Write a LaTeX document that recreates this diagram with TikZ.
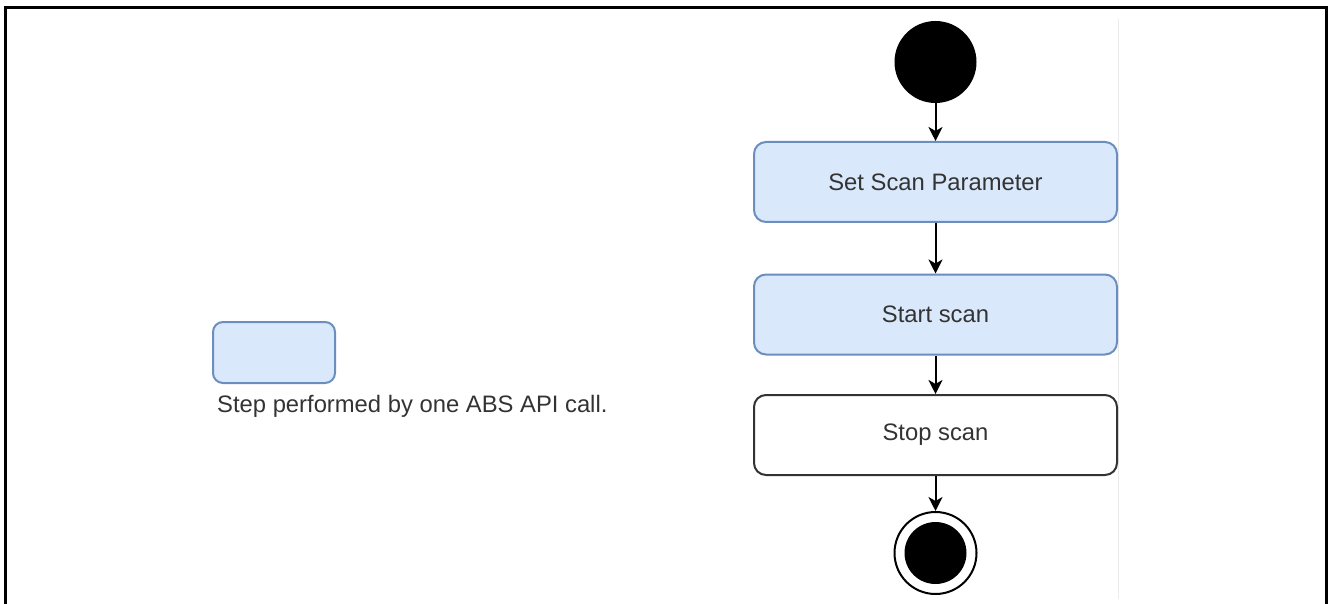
\documentclass[tikz,border=0pt]{standalone}
\usepackage{fontspec}
\setmainfont{Liberation Sans}
\usetikzlibrary{arrows.meta}
\definecolor{stepfill}{HTML}{DAE8FC}
\definecolor{stepline}{HTML}{6C8EBF}
\definecolor{txt}{HTML}{333333}
\definecolor{faint}{HTML}{EBEBEB}
\begin{document}
\begin{tikzpicture}[x=1pt,y=-1pt,
  apicall/.style={draw=stepline,fill=stepfill,line width=2pt,rounded corners=12pt,
    minimum width=363pt,minimum height=80pt,inner sep=0pt,
    font=\fontsize{23.8}{28}\selectfont,text=txt},
  plainstep/.style={apicall,draw=black!80,fill=white},
  flow/.style={draw=black,line width=2pt,-{Stealth[length=14pt,width=14pt,inset=4pt]}},
  startdot/.style={circle,fill=black,minimum size=82pt,inner sep=0pt},
  enddot/.style={circle,draw=black,line width=2pt,fill=white,minimum size=82pt,inner sep=0pt},
  enddotin/.style={circle,fill=black,minimum size=62pt,inner sep=0pt},
  legendbox/.style={draw=stepline,fill=stepfill,line width=2pt,rounded corners=10pt,
    minimum width=122pt,minimum height=61pt,inner sep=0pt},
  legendtext/.style={font=\fontsize{23.8}{28}\selectfont,text=txt,inner sep=0pt,anchor=base west}
]
\useasboundingbox (0,0) rectangle (1328,604);
% page frame (open at bottom)
\draw[line width=3pt,line cap=rect] (5.5,604) -- (5.5,7.5) -- (1326.5,7.5) -- (1326.5,604);
% faint guide line
\draw[faint,line width=1pt] (1118,19) -- (1118,599);

\node[startdot] (start) at (935.5,62) {};
\node[apicall] (setp) at (935.5,182) {Set Scan Parameter};
\node[apicall] (sscan) at (935.5,314.5) {Start scan};
\node[plainstep] (stop) at (935.5,435) {Stop scan};
\node[enddot] (fin) at (935.5,553) {};
\node[enddotin] (finin) at (935.5,553) {};

\draw[flow] (start) -- (setp);
\draw[flow] (setp) -- (sscan);
\draw[flow] (sscan) -- (stop);
\draw[flow] (stop) -- (fin);

\node[legendbox] (leg) at (274,352.5) {};
\node[legendtext] (legtxt) at (217,412) {Step performed by one ABS API call.};
\end{tikzpicture}
\end{document}
